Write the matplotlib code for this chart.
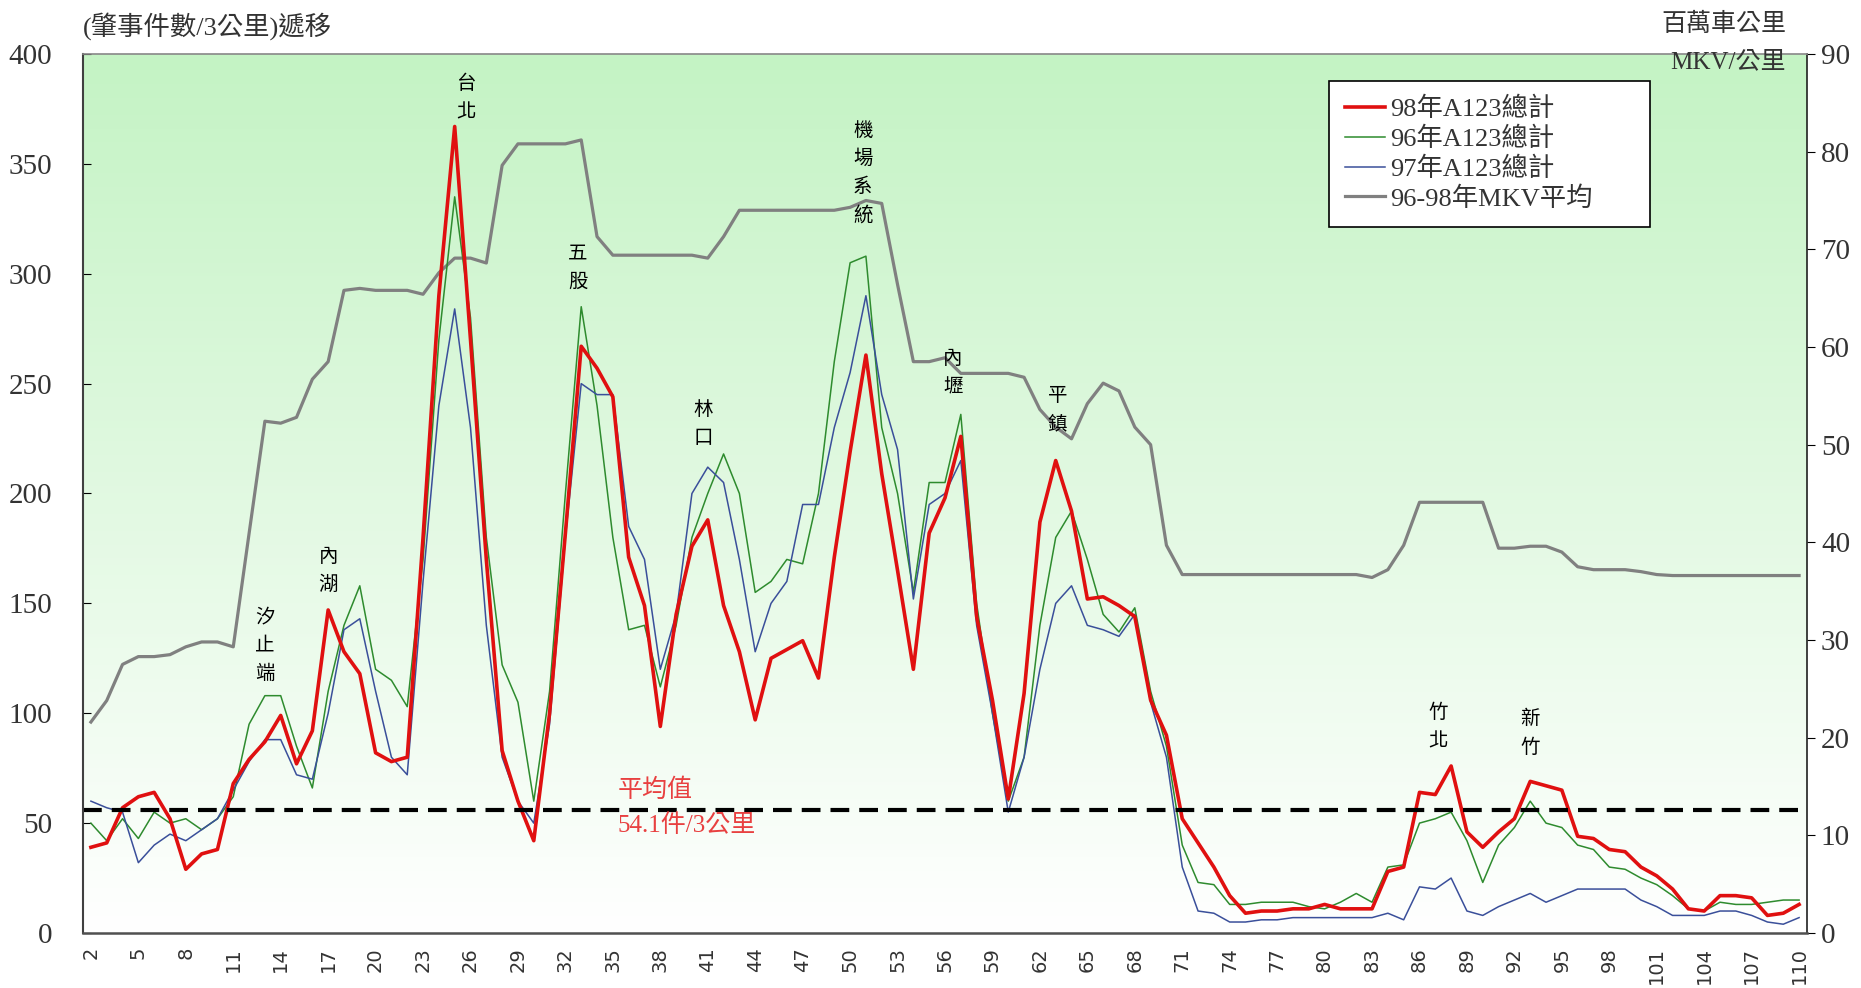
import numpy as np
import matplotlib
matplotlib.use('Agg')
import matplotlib.pyplot as plt
from matplotlib.lines import Line2D

# 3-km segments (category labels)
km = list(range(2, 111))

# 98年 A123 total (accidents / 3 km)
a98 = [39, 41, 57, 62, 64, 52, 29, 36, 38, 68,
       79, 87, 99, 77, 92, 147, 128, 118, 82, 78,
       80, 180, 290, 367, 270, 170, 83, 60, 42, 100,
       182, 267, 257, 244, 171, 149, 94, 145, 176, 188,
       149, 128, 97, 125, 129, 133, 116, 171, 219, 263,
       209, 165, 120, 182, 198, 226, 144, 106, 61, 109,
       187, 215, 192, 152, 153, 149, 144, 106, 90, 52,
       41, 30, 17, 9, 10, 10, 11, 11, 13, 11,
       11, 11, 28, 30, 64, 63, 76, 46, 39, 46,
       52, 69, 67, 65, 44, 43, 38, 37, 30, 26,
       20, 11, 10, 17, 17, 16, 8, 9, 13]

# 96年 A123 total
a96 = [50, 42, 52, 43, 55, 50, 52, 47, 52, 62,
       95, 108, 108, 85, 66, 110, 140, 158, 120, 115,
       103, 170, 270, 335, 280, 180, 122, 105, 60, 110,
       200, 285, 240, 180, 138, 140, 112, 140, 180, 200,
       218, 200, 155, 160, 170, 168, 200, 260, 305, 308,
       230, 200, 155, 205, 205, 236, 150, 100, 60, 80,
       140, 180, 192, 170, 145, 137, 148, 110, 85, 40,
       23, 22, 13, 13, 14, 14, 14, 12, 11, 14,
       18, 14, 30, 31, 50, 52, 55, 42, 23, 40,
       48, 60, 50, 48, 40, 38, 30, 29, 25, 22,
       17, 11, 10, 14, 13, 13, 14, 15, 15]

# 97年 A123 total
a97 = [60, 57, 55, 32, 40, 45, 42, 47, 52, 65,
       78, 88, 88, 72, 70, 100, 138, 143, 110, 80,
       72, 160, 240, 284, 230, 140, 80, 60, 50, 95,
       180, 250, 245, 245, 185, 170, 120, 145, 200, 212,
       205, 170, 128, 150, 160, 195, 195, 230, 255, 290,
       245, 220, 152, 195, 200, 215, 140, 100, 55, 80,
       120, 150, 158, 140, 138, 135, 145, 105, 80, 30,
       10, 9, 5, 5, 6, 6, 7, 7, 7, 7,
       7, 7, 9, 6, 21, 20, 25, 10, 8, 12,
       15, 18, 14, 17, 20, 20, 20, 20, 15, 12,
       8, 8, 8, 10, 10, 8, 5, 4, 7]

# 96-98年 MKV average (million vehicle-km / km), right axis
mkv = [21.6, 23.8, 27.5, 28.3, 28.3, 28.5, 29.3, 29.8, 29.8, 29.3,
       40.9, 52.4, 52.2, 52.8, 56.7, 58.5, 65.8, 66.0, 65.8, 65.8,
       65.8, 65.4, 67.6, 69.1, 69.1, 68.6, 78.6, 80.8, 80.8, 80.8,
       80.8, 81.2, 71.3, 69.4, 69.4, 69.4, 69.4, 69.4, 69.4, 69.1,
       71.3, 74.0, 74.0, 74.0, 74.0, 74.0, 74.0, 74.0, 74.3, 75.0,
       74.7, 66.4, 58.5, 58.5, 58.9, 57.3, 57.3, 57.3, 57.3, 56.9,
       53.6, 51.8, 50.6, 54.2, 56.3, 55.5, 51.8, 50.0, 39.7, 36.7,
       36.7, 36.7, 36.7, 36.7, 36.7, 36.7, 36.7, 36.7, 36.7, 36.7,
       36.7, 36.4, 37.2, 39.7, 44.1, 44.1, 44.1, 44.1, 44.1, 39.4,
       39.4, 39.6, 39.6, 39.0, 37.5, 37.2, 37.2, 37.2, 37.0, 36.7,
       36.6, 36.6, 36.6, 36.6, 36.6, 36.6, 36.6, 36.6, 36.6]

mean_value = 56  # where the dashed average line sits on the chart

place_names = ['汐止端', '內湖', '台北', '五股', '林口', '機場系統', '內壢', '平鎮', '竹北', '新竹']
place_x = [13, 17, 25.7, 32.8, 40.7, 50.8, 56.5, 63.1, 87.2, 93]
place_y = [131, 165, 380, 303, 232, 346, 255, 238, 94, 91]

left_ticks = list(range(0, 401, 50))
right_ticks = list(range(0, 91, 10))
x_ticks = list(range(2, 111, 3))

CJK = 'Noto Sans CJK TC'
SERIF = ['Liberation Serif', CJK]

fig = plt.figure(figsize=(18.61, 9.88), dpi=100)
pos = [83 / 1861, 1 - 933 / 988, (1807 - 83) / 1861, (933 - 54) / 988]

# green gradient background
bg = fig.add_axes(pos, zorder=0)
top = np.array([196, 243, 196]) / 255
bot = np.array([255, 255, 255]) / 255
t = np.linspace(0, 1, 256)[:, None]
grad = (top * (1 - t) + bot * t)[:, None, :]
bg.imshow(grad, aspect='auto', extent=[0, 1, 0, 1])
bg.axis('off')

ax2 = fig.add_axes(pos, zorder=1)
ax2.patch.set_visible(False)
ax = fig.add_axes(pos, zorder=2, sharex=ax2)
ax.patch.set_visible(False)

ax2.plot(km, mkv, color='#808080', lw=2.3)
ax.plot(km, a96, color='#2e8b2e', lw=1.1)
ax.plot(km, a97, color='#3a4f9a', lw=1.1)
ax.plot(km, a98, color='#e01010', lw=2.6)
ax.axhline(mean_value, color='black', lw=3, dashes=(4.5, 2.4))

ax.set_xlim(1.5, 110.5)
ax.set_ylim(0, 400)
ax2.set_ylim(0, 90)

ax.set_yticks(left_ticks)
ax.set_yticklabels([str(v) for v in left_ticks], family=SERIF, fontsize=21, color='#333333')
ax.tick_params(axis='y', direction='in', length=6, pad=22)
ax2.yaxis.tick_right()
ax2.set_yticks(right_ticks)
ax2.set_yticklabels([str(v) for v in right_ticks], family=SERIF, fontsize=21, color='#333333')
ax2.tick_params(axis='y', direction='out', length=6, pad=4)
ax2.tick_params(axis='x', bottom=False, labelbottom=False)

ax.set_xticks(x_ticks)
ax.set_xticklabels([str(v) for v in x_ticks], rotation=90, fontsize=14,
                   family='DejaVu Sans', color='#333333')
ax.tick_params(axis='x', length=0, pad=10)

for a in (ax, ax2):
    for s in a.spines.values():
        s.set_visible(False)
ax.spines['left'].set_visible(True)
ax.spines['left'].set_color('#404040')
ax.spines['left'].set_linewidth(1.5)
ax.spines['bottom'].set_visible(True)
ax.spines['bottom'].set_color('#505050')
ax.spines['bottom'].set_linewidth(1.8)
ax.spines['top'].set_visible(True)
ax.spines['top'].set_color('#888888')
ax.spines['top'].set_linewidth(1.2)
ax2.spines['right'].set_visible(True)
ax2.spines['right'].set_color('#202020')
ax2.spines['right'].set_linewidth(1.2)

# place name labels, written vertically
for name, px, py in zip(place_names, place_x, place_y):
    ax.text(px, py, '\n'.join(name), ha='center', va='center', fontsize=14,
            family=CJK, linespacing=1.45, color='black')

ax.text(35.3, 65, '平均值', color='#e84040', fontsize=18, family=SERIF,
        ha='left', va='center')
ax.text(35.3, 49, '54.1件/3公里', color='#e84040', fontsize=18, family=SERIF,
        ha='left', va='center')

fig.text(83 / 1861, 1 - 26 / 988, '(肇事件數/3公里)遞移', family=SERIF, fontsize=19,
         color='#333333', ha='left', va='center')
fig.text(1786 / 1861, 1 - 24 / 988, '百萬車公里', family=SERIF, fontsize=18,
         color='#333333', ha='right', va='center')
fig.text(1786 / 1861, 1 - 62 / 988, 'MKV/公里', family=SERIF, fontsize=18,
         color='#333333', ha='right', va='center', zorder=5)

handles = [Line2D([], [], color='#e01010', lw=2.6),
           Line2D([], [], color='#2e8b2e', lw=1.1),
           Line2D([], [], color='#3a4f9a', lw=1.1),
           Line2D([], [], color='#808080', lw=2.3)]
labels = ['98年A123總計', '96年A123總計', '97年A123總計', '96-98年MKV平均']
leg = ax.legend(handles, labels, loc='upper left', mode='expand',
                bbox_to_anchor=(0.723, 0.802, 0.186, 0.167),
                prop={'family': SERIF, 'size': 19}, frameon=True, fancybox=False,
                edgecolor='black', framealpha=1, handlelength=1.5, handletextpad=0.2,
                labelspacing=0.2, borderpad=0.6, borderaxespad=0)
leg.get_frame().set_linewidth(1.2)
for txt in leg.get_texts():
    txt.set_color('#333333')

fig.savefig('out.png', dpi=100)
